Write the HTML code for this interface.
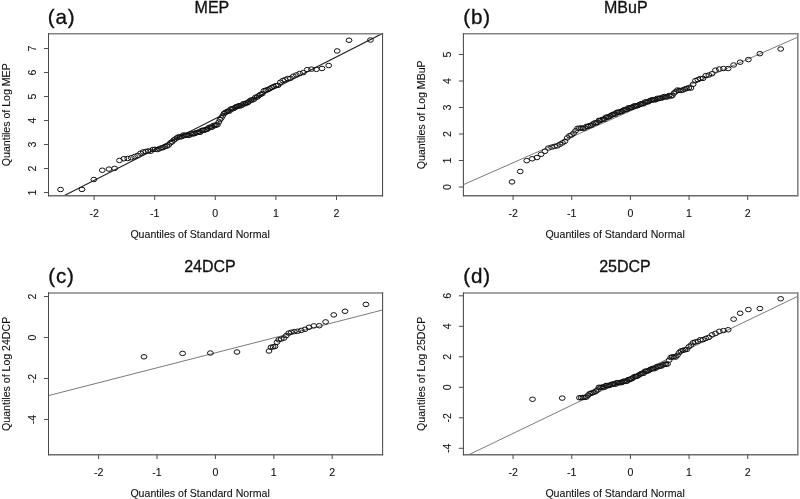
<!DOCTYPE html>
<html><head><meta charset="utf-8"><title>Q-Q plots</title>
<style>
html,body{margin:0;padding:0;background:#fff;}
body{width:800px;height:499px;overflow:hidden;font-family:"Liberation Sans",sans-serif;}
svg{display:block;will-change:transform;font-family:"Liberation Sans",sans-serif;}
</style></head><body>
<svg width="800" height="499" viewBox="0 0 800 499">
<rect x="0" y="0" width="800" height="499" fill="#ffffff"/>
<clipPath id="cpa"><rect x="48.5" y="33.75" width="334.05" height="161.95"/></clipPath>
<line x1="64" y1="195.75" x2="382.5" y2="33.4" stroke="#222" stroke-width="1.1" clip-path="url(#cpa)"/>
<g fill="none" stroke="#111" stroke-width="1.0">
<ellipse cx="60.55" cy="189.50" rx="2.9" ry="2.25"/>
<ellipse cx="81.98" cy="189.43" rx="2.9" ry="2.25"/>
<ellipse cx="93.81" cy="179.53" rx="2.9" ry="2.25"/>
<ellipse cx="102.28" cy="170.22" rx="2.9" ry="2.25"/>
<ellipse cx="108.99" cy="169.08" rx="2.9" ry="2.25"/>
<ellipse cx="114.61" cy="168.37" rx="2.9" ry="2.25"/>
<ellipse cx="119.48" cy="160.40" rx="2.9" ry="2.25"/>
<ellipse cx="123.80" cy="158.73" rx="2.9" ry="2.25"/>
<ellipse cx="127.70" cy="158.46" rx="2.9" ry="2.25"/>
<ellipse cx="131.27" cy="157.75" rx="2.9" ry="2.25"/>
<ellipse cx="134.57" cy="156.55" rx="2.9" ry="2.25"/>
<ellipse cx="137.65" cy="155.38" rx="2.9" ry="2.25"/>
<ellipse cx="140.53" cy="153.22" rx="2.9" ry="2.25"/>
<ellipse cx="143.26" cy="151.97" rx="2.9" ry="2.25"/>
<ellipse cx="145.85" cy="151.46" rx="2.9" ry="2.25"/>
<ellipse cx="148.32" cy="150.93" rx="2.9" ry="2.25"/>
<ellipse cx="150.69" cy="151.21" rx="2.9" ry="2.25"/>
<ellipse cx="152.96" cy="149.45" rx="2.9" ry="2.25"/>
<ellipse cx="155.14" cy="149.35" rx="2.9" ry="2.25"/>
<ellipse cx="157.25" cy="149.53" rx="2.9" ry="2.25"/>
<ellipse cx="159.29" cy="148.83" rx="2.9" ry="2.25"/>
<ellipse cx="161.27" cy="147.96" rx="2.9" ry="2.25"/>
<ellipse cx="163.20" cy="147.61" rx="2.9" ry="2.25"/>
<ellipse cx="165.07" cy="146.34" rx="2.9" ry="2.25"/>
<ellipse cx="166.89" cy="146.07" rx="2.9" ry="2.25"/>
<ellipse cx="168.68" cy="145.01" rx="2.9" ry="2.25"/>
<ellipse cx="170.42" cy="142.81" rx="2.9" ry="2.25"/>
<ellipse cx="172.13" cy="141.86" rx="2.9" ry="2.25"/>
<ellipse cx="173.80" cy="139.94" rx="2.9" ry="2.25"/>
<ellipse cx="175.45" cy="138.98" rx="2.9" ry="2.25"/>
<ellipse cx="177.06" cy="137.76" rx="2.9" ry="2.25"/>
<ellipse cx="178.65" cy="136.85" rx="2.9" ry="2.25"/>
<ellipse cx="180.21" cy="136.91" rx="2.9" ry="2.25"/>
<ellipse cx="181.75" cy="136.60" rx="2.9" ry="2.25"/>
<ellipse cx="183.27" cy="135.05" rx="2.9" ry="2.25"/>
<ellipse cx="184.76" cy="135.53" rx="2.9" ry="2.25"/>
<ellipse cx="186.24" cy="135.12" rx="2.9" ry="2.25"/>
<ellipse cx="187.71" cy="134.99" rx="2.9" ry="2.25"/>
<ellipse cx="189.15" cy="135.39" rx="2.9" ry="2.25"/>
<ellipse cx="190.59" cy="133.70" rx="2.9" ry="2.25"/>
<ellipse cx="192.00" cy="133.86" rx="2.9" ry="2.25"/>
<ellipse cx="193.41" cy="133.98" rx="2.9" ry="2.25"/>
<ellipse cx="194.80" cy="133.39" rx="2.9" ry="2.25"/>
<ellipse cx="196.19" cy="132.70" rx="2.9" ry="2.25"/>
<ellipse cx="197.56" cy="132.49" rx="2.9" ry="2.25"/>
<ellipse cx="198.92" cy="131.98" rx="2.9" ry="2.25"/>
<ellipse cx="200.28" cy="132.25" rx="2.9" ry="2.25"/>
<ellipse cx="201.63" cy="130.47" rx="2.9" ry="2.25"/>
<ellipse cx="202.97" cy="130.21" rx="2.9" ry="2.25"/>
<ellipse cx="204.30" cy="130.35" rx="2.9" ry="2.25"/>
<ellipse cx="205.63" cy="129.49" rx="2.9" ry="2.25"/>
<ellipse cx="206.96" cy="129.43" rx="2.9" ry="2.25"/>
<ellipse cx="208.28" cy="128.06" rx="2.9" ry="2.25"/>
<ellipse cx="209.60" cy="127.21" rx="2.9" ry="2.25"/>
<ellipse cx="210.91" cy="127.44" rx="2.9" ry="2.25"/>
<ellipse cx="212.22" cy="126.96" rx="2.9" ry="2.25"/>
<ellipse cx="213.53" cy="125.38" rx="2.9" ry="2.25"/>
<ellipse cx="214.85" cy="125.65" rx="2.9" ry="2.25"/>
<ellipse cx="216.15" cy="124.92" rx="2.9" ry="2.25"/>
<ellipse cx="217.47" cy="124.78" rx="2.9" ry="2.25"/>
<ellipse cx="218.78" cy="122.12" rx="2.9" ry="2.25"/>
<ellipse cx="220.09" cy="119.64" rx="2.9" ry="2.25"/>
<ellipse cx="221.40" cy="117.93" rx="2.9" ry="2.25"/>
<ellipse cx="222.72" cy="115.77" rx="2.9" ry="2.25"/>
<ellipse cx="224.04" cy="113.55" rx="2.9" ry="2.25"/>
<ellipse cx="225.37" cy="112.53" rx="2.9" ry="2.25"/>
<ellipse cx="226.70" cy="111.76" rx="2.9" ry="2.25"/>
<ellipse cx="228.03" cy="111.15" rx="2.9" ry="2.25"/>
<ellipse cx="229.37" cy="111.17" rx="2.9" ry="2.25"/>
<ellipse cx="230.72" cy="109.08" rx="2.9" ry="2.25"/>
<ellipse cx="232.08" cy="108.80" rx="2.9" ry="2.25"/>
<ellipse cx="233.44" cy="108.57" rx="2.9" ry="2.25"/>
<ellipse cx="234.81" cy="107.70" rx="2.9" ry="2.25"/>
<ellipse cx="236.20" cy="106.75" rx="2.9" ry="2.25"/>
<ellipse cx="237.59" cy="106.37" rx="2.9" ry="2.25"/>
<ellipse cx="239.00" cy="105.71" rx="2.9" ry="2.25"/>
<ellipse cx="240.41" cy="105.94" rx="2.9" ry="2.25"/>
<ellipse cx="241.85" cy="105.25" rx="2.9" ry="2.25"/>
<ellipse cx="243.29" cy="103.77" rx="2.9" ry="2.25"/>
<ellipse cx="244.76" cy="103.88" rx="2.9" ry="2.25"/>
<ellipse cx="246.24" cy="103.01" rx="2.9" ry="2.25"/>
<ellipse cx="247.73" cy="102.71" rx="2.9" ry="2.25"/>
<ellipse cx="249.25" cy="101.20" rx="2.9" ry="2.25"/>
<ellipse cx="250.79" cy="100.10" rx="2.9" ry="2.25"/>
<ellipse cx="252.35" cy="99.99" rx="2.9" ry="2.25"/>
<ellipse cx="253.94" cy="99.21" rx="2.9" ry="2.25"/>
<ellipse cx="255.55" cy="97.19" rx="2.9" ry="2.25"/>
<ellipse cx="257.20" cy="97.07" rx="2.9" ry="2.25"/>
<ellipse cx="258.87" cy="95.57" rx="2.9" ry="2.25"/>
<ellipse cx="260.58" cy="94.43" rx="2.9" ry="2.25"/>
<ellipse cx="262.32" cy="93.60" rx="2.9" ry="2.25"/>
<ellipse cx="264.11" cy="90.71" rx="2.9" ry="2.25"/>
<ellipse cx="265.93" cy="90.15" rx="2.9" ry="2.25"/>
<ellipse cx="267.80" cy="89.67" rx="2.9" ry="2.25"/>
<ellipse cx="269.73" cy="88.63" rx="2.9" ry="2.25"/>
<ellipse cx="271.71" cy="87.45" rx="2.9" ry="2.25"/>
<ellipse cx="273.75" cy="86.57" rx="2.9" ry="2.25"/>
<ellipse cx="275.86" cy="85.66" rx="2.9" ry="2.25"/>
<ellipse cx="278.04" cy="85.34" rx="2.9" ry="2.25"/>
<ellipse cx="280.31" cy="82.29" rx="2.9" ry="2.25"/>
<ellipse cx="282.68" cy="80.59" rx="2.9" ry="2.25"/>
<ellipse cx="285.15" cy="79.72" rx="2.9" ry="2.25"/>
<ellipse cx="287.74" cy="78.51" rx="2.9" ry="2.25"/>
<ellipse cx="290.47" cy="78.21" rx="2.9" ry="2.25"/>
<ellipse cx="293.35" cy="76.20" rx="2.9" ry="2.25"/>
<ellipse cx="296.43" cy="74.92" rx="2.9" ry="2.25"/>
<ellipse cx="299.73" cy="73.50" rx="2.9" ry="2.25"/>
<ellipse cx="303.30" cy="72.61" rx="2.9" ry="2.25"/>
<ellipse cx="307.20" cy="69.65" rx="2.9" ry="2.25"/>
<ellipse cx="311.52" cy="69.14" rx="2.9" ry="2.25"/>
<ellipse cx="316.39" cy="69.37" rx="2.9" ry="2.25"/>
<ellipse cx="322.01" cy="68.49" rx="2.9" ry="2.25"/>
<ellipse cx="328.72" cy="65.53" rx="2.9" ry="2.25"/>
<ellipse cx="337.19" cy="50.94" rx="2.9" ry="2.25"/>
<ellipse cx="349.02" cy="40.25" rx="2.9" ry="2.25"/>
<ellipse cx="370.45" cy="40.00" rx="2.9" ry="2.25"/>
</g>
<line x1="48.0" y1="33.75" x2="383.15000000000003" y2="33.75" stroke="#848484" stroke-width="1.6"/>
<line x1="48.0" y1="195.7" x2="383.15000000000003" y2="195.7" stroke="#6c6c6c" stroke-width="1.4"/>
<line x1="48.5" y1="33.15" x2="48.5" y2="196.29999999999998" stroke="#484848" stroke-width="1.05"/>
<line x1="382.55" y1="33.15" x2="382.55" y2="196.29999999999998" stroke="#484848" stroke-width="1.05"/>
<g stroke="#505050" stroke-width="1.05" fill="none">
<line x1="94.10000000000001" y1="195.7" x2="94.10000000000001" y2="200.0"/>
<line x1="154.70000000000002" y1="195.7" x2="154.70000000000002" y2="200.0"/>
<line x1="215.3" y1="195.7" x2="215.3" y2="200.0"/>
<line x1="275.90000000000003" y1="195.7" x2="275.90000000000003" y2="200.0"/>
<line x1="336.5" y1="195.7" x2="336.5" y2="200.0"/>
<line x1="44.0" y1="192.5" x2="48.5" y2="192.5"/>
<line x1="44.0" y1="168.5" x2="48.5" y2="168.5"/>
<line x1="44.0" y1="144.5" x2="48.5" y2="144.5"/>
<line x1="44.0" y1="120.5" x2="48.5" y2="120.5"/>
<line x1="44.0" y1="96.5" x2="48.5" y2="96.5"/>
<line x1="44.0" y1="72.5" x2="48.5" y2="72.5"/>
<line x1="44.0" y1="48.5" x2="48.5" y2="48.5"/>
</g>
<g font-size="10.58" fill="#111" stroke="#111" stroke-width="0.1" text-anchor="middle">
<text x="94.10000000000001" y="217.3">-2</text>
<text x="154.70000000000002" y="217.3">-1</text>
<text x="215.3" y="217.3">0</text>
<text x="275.90000000000003" y="217.3">1</text>
<text x="336.5" y="217.3">2</text>
<text transform="translate(35.7,192.5) rotate(-90)">1</text>
<text transform="translate(35.7,168.5) rotate(-90)">2</text>
<text transform="translate(35.7,144.5) rotate(-90)">3</text>
<text transform="translate(35.7,120.5) rotate(-90)">4</text>
<text transform="translate(35.7,96.5) rotate(-90)">5</text>
<text transform="translate(35.7,72.5) rotate(-90)">6</text>
<text transform="translate(35.7,48.5) rotate(-90)">7</text>
<text transform="translate(10.200000000000003,114.725) rotate(-90)">Quantiles of Log MEP</text>
</g>
<text x="130.4" y="237.9" font-size="10.58" fill="#111" stroke="#111" stroke-width="0.1">Quantiles of Standard Normal</text>
<text x="211.9" y="12.9" font-size="16" fill="#111" stroke="#111" stroke-width="0.3" text-anchor="middle">MEP</text>
<text x="47.8" y="24.0" font-size="20.6" fill="#111" stroke="#111" stroke-width="0.35" letter-spacing="0.85">(a)</text>
<clipPath id="cpb"><rect x="463.4" y="33.8" width="334.4" height="161.89999999999998"/></clipPath>
<line x1="463.75" y1="184.5" x2="797.9" y2="37.1" stroke="#222" stroke-width="0.6" clip-path="url(#cpb)"/>
<g fill="none" stroke="#111" stroke-width="1.0">
<ellipse cx="512.01" cy="181.90" rx="2.9" ry="2.25"/>
<ellipse cx="520.24" cy="171.46" rx="2.9" ry="2.25"/>
<ellipse cx="526.76" cy="160.63" rx="2.9" ry="2.25"/>
<ellipse cx="532.22" cy="158.76" rx="2.9" ry="2.25"/>
<ellipse cx="536.95" cy="157.54" rx="2.9" ry="2.25"/>
<ellipse cx="541.14" cy="154.29" rx="2.9" ry="2.25"/>
<ellipse cx="544.93" cy="151.31" rx="2.9" ry="2.25"/>
<ellipse cx="548.40" cy="148.02" rx="2.9" ry="2.25"/>
<ellipse cx="551.60" cy="147.15" rx="2.9" ry="2.25"/>
<ellipse cx="554.59" cy="146.36" rx="2.9" ry="2.25"/>
<ellipse cx="557.39" cy="145.87" rx="2.9" ry="2.25"/>
<ellipse cx="560.04" cy="144.25" rx="2.9" ry="2.25"/>
<ellipse cx="562.56" cy="142.84" rx="2.9" ry="2.25"/>
<ellipse cx="564.96" cy="141.24" rx="2.9" ry="2.25"/>
<ellipse cx="567.25" cy="137.87" rx="2.9" ry="2.25"/>
<ellipse cx="569.46" cy="135.73" rx="2.9" ry="2.25"/>
<ellipse cx="571.58" cy="134.99" rx="2.9" ry="2.25"/>
<ellipse cx="573.63" cy="133.19" rx="2.9" ry="2.25"/>
<ellipse cx="575.61" cy="130.76" rx="2.9" ry="2.25"/>
<ellipse cx="577.53" cy="128.36" rx="2.9" ry="2.25"/>
<ellipse cx="579.40" cy="128.35" rx="2.9" ry="2.25"/>
<ellipse cx="581.22" cy="127.86" rx="2.9" ry="2.25"/>
<ellipse cx="582.99" cy="128.35" rx="2.9" ry="2.25"/>
<ellipse cx="584.73" cy="128.04" rx="2.9" ry="2.25"/>
<ellipse cx="586.42" cy="126.39" rx="2.9" ry="2.25"/>
<ellipse cx="588.08" cy="126.46" rx="2.9" ry="2.25"/>
<ellipse cx="589.70" cy="125.54" rx="2.9" ry="2.25"/>
<ellipse cx="591.30" cy="125.30" rx="2.9" ry="2.25"/>
<ellipse cx="592.87" cy="124.05" rx="2.9" ry="2.25"/>
<ellipse cx="594.41" cy="123.00" rx="2.9" ry="2.25"/>
<ellipse cx="595.93" cy="122.93" rx="2.9" ry="2.25"/>
<ellipse cx="597.42" cy="122.39" rx="2.9" ry="2.25"/>
<ellipse cx="598.89" cy="120.43" rx="2.9" ry="2.25"/>
<ellipse cx="600.35" cy="120.50" rx="2.9" ry="2.25"/>
<ellipse cx="601.79" cy="119.69" rx="2.9" ry="2.25"/>
<ellipse cx="603.21" cy="119.18" rx="2.9" ry="2.25"/>
<ellipse cx="604.61" cy="119.26" rx="2.9" ry="2.25"/>
<ellipse cx="606.00" cy="117.25" rx="2.9" ry="2.25"/>
<ellipse cx="607.38" cy="117.13" rx="2.9" ry="2.25"/>
<ellipse cx="608.75" cy="116.97" rx="2.9" ry="2.25"/>
<ellipse cx="610.10" cy="116.09" rx="2.9" ry="2.25"/>
<ellipse cx="611.44" cy="115.13" rx="2.9" ry="2.25"/>
<ellipse cx="612.78" cy="114.64" rx="2.9" ry="2.25"/>
<ellipse cx="614.10" cy="113.99" rx="2.9" ry="2.25"/>
<ellipse cx="615.42" cy="114.21" rx="2.9" ry="2.25"/>
<ellipse cx="616.73" cy="112.42" rx="2.9" ry="2.25"/>
<ellipse cx="618.03" cy="112.17" rx="2.9" ry="2.25"/>
<ellipse cx="619.33" cy="112.30" rx="2.9" ry="2.25"/>
<ellipse cx="620.62" cy="111.49" rx="2.9" ry="2.25"/>
<ellipse cx="621.90" cy="111.56" rx="2.9" ry="2.25"/>
<ellipse cx="623.19" cy="110.31" rx="2.9" ry="2.25"/>
<ellipse cx="624.47" cy="109.58" rx="2.9" ry="2.25"/>
<ellipse cx="625.74" cy="109.84" rx="2.9" ry="2.25"/>
<ellipse cx="627.02" cy="109.36" rx="2.9" ry="2.25"/>
<ellipse cx="628.29" cy="107.82" rx="2.9" ry="2.25"/>
<ellipse cx="629.56" cy="108.15" rx="2.9" ry="2.25"/>
<ellipse cx="630.84" cy="107.49" rx="2.9" ry="2.25"/>
<ellipse cx="632.11" cy="107.41" rx="2.9" ry="2.25"/>
<ellipse cx="633.38" cy="106.45" rx="2.9" ry="2.25"/>
<ellipse cx="634.66" cy="105.71" rx="2.9" ry="2.25"/>
<ellipse cx="635.93" cy="105.92" rx="2.9" ry="2.25"/>
<ellipse cx="637.21" cy="105.74" rx="2.9" ry="2.25"/>
<ellipse cx="638.50" cy="105.13" rx="2.9" ry="2.25"/>
<ellipse cx="639.78" cy="104.38" rx="2.9" ry="2.25"/>
<ellipse cx="641.07" cy="103.87" rx="2.9" ry="2.25"/>
<ellipse cx="642.37" cy="103.53" rx="2.9" ry="2.25"/>
<ellipse cx="643.67" cy="103.81" rx="2.9" ry="2.25"/>
<ellipse cx="644.98" cy="102.00" rx="2.9" ry="2.25"/>
<ellipse cx="646.30" cy="101.98" rx="2.9" ry="2.25"/>
<ellipse cx="647.62" cy="102.02" rx="2.9" ry="2.25"/>
<ellipse cx="648.96" cy="101.27" rx="2.9" ry="2.25"/>
<ellipse cx="650.30" cy="100.40" rx="2.9" ry="2.25"/>
<ellipse cx="651.65" cy="100.11" rx="2.9" ry="2.25"/>
<ellipse cx="653.02" cy="99.58" rx="2.9" ry="2.25"/>
<ellipse cx="654.40" cy="100.04" rx="2.9" ry="2.25"/>
<ellipse cx="655.79" cy="99.57" rx="2.9" ry="2.25"/>
<ellipse cx="657.19" cy="98.33" rx="2.9" ry="2.25"/>
<ellipse cx="658.61" cy="98.67" rx="2.9" ry="2.25"/>
<ellipse cx="660.05" cy="98.03" rx="2.9" ry="2.25"/>
<ellipse cx="661.51" cy="98.19" rx="2.9" ry="2.25"/>
<ellipse cx="662.98" cy="97.15" rx="2.9" ry="2.25"/>
<ellipse cx="664.47" cy="96.53" rx="2.9" ry="2.25"/>
<ellipse cx="665.99" cy="97.01" rx="2.9" ry="2.25"/>
<ellipse cx="667.53" cy="96.87" rx="2.9" ry="2.25"/>
<ellipse cx="669.10" cy="95.51" rx="2.9" ry="2.25"/>
<ellipse cx="670.70" cy="96.07" rx="2.9" ry="2.25"/>
<ellipse cx="672.32" cy="95.65" rx="2.9" ry="2.25"/>
<ellipse cx="673.98" cy="93.08" rx="2.9" ry="2.25"/>
<ellipse cx="675.67" cy="91.66" rx="2.9" ry="2.25"/>
<ellipse cx="677.41" cy="90.04" rx="2.9" ry="2.25"/>
<ellipse cx="679.18" cy="90.40" rx="2.9" ry="2.25"/>
<ellipse cx="681.00" cy="90.49" rx="2.9" ry="2.25"/>
<ellipse cx="682.87" cy="89.98" rx="2.9" ry="2.25"/>
<ellipse cx="684.79" cy="89.07" rx="2.9" ry="2.25"/>
<ellipse cx="686.77" cy="88.48" rx="2.9" ry="2.25"/>
<ellipse cx="688.82" cy="87.91" rx="2.9" ry="2.25"/>
<ellipse cx="690.94" cy="88.05" rx="2.9" ry="2.25"/>
<ellipse cx="693.15" cy="84.25" rx="2.9" ry="2.25"/>
<ellipse cx="695.44" cy="80.65" rx="2.9" ry="2.25"/>
<ellipse cx="697.84" cy="79.68" rx="2.9" ry="2.25"/>
<ellipse cx="700.36" cy="78.55" rx="2.9" ry="2.25"/>
<ellipse cx="703.01" cy="78.34" rx="2.9" ry="2.25"/>
<ellipse cx="705.81" cy="75.60" rx="2.9" ry="2.25"/>
<ellipse cx="708.80" cy="75.00" rx="2.9" ry="2.25"/>
<ellipse cx="712.00" cy="73.77" rx="2.9" ry="2.25"/>
<ellipse cx="715.47" cy="70.16" rx="2.9" ry="2.25"/>
<ellipse cx="719.26" cy="69.04" rx="2.9" ry="2.25"/>
<ellipse cx="723.45" cy="68.56" rx="2.9" ry="2.25"/>
<ellipse cx="728.18" cy="68.50" rx="2.9" ry="2.25"/>
<ellipse cx="733.64" cy="64.98" rx="2.9" ry="2.25"/>
<ellipse cx="740.16" cy="62.19" rx="2.9" ry="2.25"/>
<ellipse cx="748.39" cy="59.59" rx="2.9" ry="2.25"/>
<ellipse cx="759.88" cy="53.70" rx="2.9" ry="2.25"/>
<ellipse cx="780.69" cy="49.00" rx="2.9" ry="2.25"/>
</g>
<line x1="462.9" y1="33.8" x2="798.4" y2="33.8" stroke="#848484" stroke-width="1.6"/>
<line x1="462.9" y1="195.7" x2="798.4" y2="195.7" stroke="#6c6c6c" stroke-width="1.4"/>
<line x1="463.4" y1="33.199999999999996" x2="463.4" y2="196.29999999999998" stroke="#484848" stroke-width="1.05"/>
<line x1="797.8" y1="33.199999999999996" x2="797.8" y2="196.29999999999998" stroke="#848484" stroke-width="1.6"/>
<g stroke="#505050" stroke-width="1.05" fill="none">
<line x1="513.1" y1="195.7" x2="513.1" y2="200.0"/>
<line x1="571.75" y1="195.7" x2="571.75" y2="200.0"/>
<line x1="630.4" y1="195.7" x2="630.4" y2="200.0"/>
<line x1="689.05" y1="195.7" x2="689.05" y2="200.0"/>
<line x1="747.6999999999999" y1="195.7" x2="747.6999999999999" y2="200.0"/>
<line x1="458.9" y1="187.0" x2="463.4" y2="187.0"/>
<line x1="458.9" y1="160.5" x2="463.4" y2="160.5"/>
<line x1="458.9" y1="134.0" x2="463.4" y2="134.0"/>
<line x1="458.9" y1="107.5" x2="463.4" y2="107.5"/>
<line x1="458.9" y1="81.0" x2="463.4" y2="81.0"/>
<line x1="458.9" y1="54.5" x2="463.4" y2="54.5"/>
</g>
<g font-size="10.58" fill="#111" stroke="#111" stroke-width="0.1" text-anchor="middle">
<text x="513.1" y="217.3">-2</text>
<text x="571.75" y="217.3">-1</text>
<text x="630.4" y="217.3">0</text>
<text x="689.05" y="217.3">1</text>
<text x="747.6999999999999" y="217.3">2</text>
<text transform="translate(450.59999999999997,187.0) rotate(-90)">0</text>
<text transform="translate(450.59999999999997,160.5) rotate(-90)">1</text>
<text transform="translate(450.59999999999997,134.0) rotate(-90)">2</text>
<text transform="translate(450.59999999999997,107.5) rotate(-90)">3</text>
<text transform="translate(450.59999999999997,81.0) rotate(-90)">4</text>
<text transform="translate(450.59999999999997,54.5) rotate(-90)">5</text>
<text transform="translate(425.09999999999997,114.75) rotate(-90)">Quantiles of Log MBuP</text>
</g>
<text x="545.4" y="237.9" font-size="10.58" fill="#111" stroke="#111" stroke-width="0.1">Quantiles of Standard Normal</text>
<text x="625.8" y="12.9" font-size="16" fill="#111" stroke="#111" stroke-width="0.3" text-anchor="middle">MBuP</text>
<text x="463.2" y="24.0" font-size="20.6" fill="#111" stroke="#111" stroke-width="0.35" letter-spacing="0.85">(b)</text>
<clipPath id="cpc"><rect x="48.5" y="293.0" width="334.1" height="161.7"/></clipPath>
<line x1="48.5" y1="395.6" x2="382.5" y2="310" stroke="#222" stroke-width="0.6" clip-path="url(#cpc)"/>
<g fill="none" stroke="#111" stroke-width="1.0">
<ellipse cx="144.00" cy="356.80" rx="2.9" ry="2.25"/>
<ellipse cx="182.60" cy="353.40" rx="2.9" ry="2.25"/>
<ellipse cx="210.40" cy="353.00" rx="2.9" ry="2.25"/>
<ellipse cx="237.00" cy="352.00" rx="2.9" ry="2.25"/>
<ellipse cx="269.00" cy="351.00" rx="2.9" ry="2.25"/>
<ellipse cx="271.00" cy="347.25" rx="2.9" ry="2.25"/>
<ellipse cx="273.10" cy="346.90" rx="2.9" ry="2.25"/>
<ellipse cx="275.00" cy="346.50" rx="2.9" ry="2.25"/>
<ellipse cx="276.90" cy="342.25" rx="2.9" ry="2.25"/>
<ellipse cx="278.75" cy="339.75" rx="2.9" ry="2.25"/>
<ellipse cx="281.25" cy="339.00" rx="2.9" ry="2.25"/>
<ellipse cx="284.00" cy="338.10" rx="2.9" ry="2.25"/>
<ellipse cx="286.25" cy="335.60" rx="2.9" ry="2.25"/>
<ellipse cx="288.75" cy="333.10" rx="2.9" ry="2.25"/>
<ellipse cx="291.25" cy="332.25" rx="2.9" ry="2.25"/>
<ellipse cx="294.40" cy="331.60" rx="2.9" ry="2.25"/>
<ellipse cx="297.50" cy="331.25" rx="2.9" ry="2.25"/>
<ellipse cx="301.25" cy="330.40" rx="2.9" ry="2.25"/>
<ellipse cx="305.00" cy="329.30" rx="2.9" ry="2.25"/>
<ellipse cx="309.00" cy="327.25" rx="2.9" ry="2.25"/>
<ellipse cx="313.75" cy="325.90" rx="2.9" ry="2.25"/>
<ellipse cx="319.30" cy="325.70" rx="2.9" ry="2.25"/>
<ellipse cx="325.60" cy="321.90" rx="2.9" ry="2.25"/>
<ellipse cx="333.75" cy="314.90" rx="2.9" ry="2.25"/>
<ellipse cx="345.00" cy="311.25" rx="2.9" ry="2.25"/>
<ellipse cx="365.90" cy="304.40" rx="2.9" ry="2.25"/>
</g>
<line x1="48.0" y1="293.0" x2="383.20000000000005" y2="293.0" stroke="#848484" stroke-width="1.6"/>
<line x1="48.0" y1="454.7" x2="383.20000000000005" y2="454.7" stroke="#6c6c6c" stroke-width="1.4"/>
<line x1="48.5" y1="292.4" x2="48.5" y2="455.3" stroke="#484848" stroke-width="1.05"/>
<line x1="382.6" y1="292.4" x2="382.6" y2="455.3" stroke="#484848" stroke-width="1.05"/>
<g stroke="#505050" stroke-width="1.05" fill="none">
<line x1="98.60000000000001" y1="454.7" x2="98.60000000000001" y2="459.0"/>
<line x1="157.0" y1="454.7" x2="157.0" y2="459.0"/>
<line x1="215.4" y1="454.7" x2="215.4" y2="459.0"/>
<line x1="273.8" y1="454.7" x2="273.8" y2="459.0"/>
<line x1="332.2" y1="454.7" x2="332.2" y2="459.0"/>
<line x1="44.0" y1="296.5" x2="48.5" y2="296.5"/>
<line x1="44.0" y1="337.5" x2="48.5" y2="337.5"/>
<line x1="44.0" y1="378.5" x2="48.5" y2="378.5"/>
<line x1="44.0" y1="419.5" x2="48.5" y2="419.5"/>
</g>
<g font-size="10.58" fill="#111" stroke="#111" stroke-width="0.1" text-anchor="middle">
<text x="98.60000000000001" y="475.9">-2</text>
<text x="157.0" y="475.9">-1</text>
<text x="215.4" y="475.9">0</text>
<text x="273.8" y="475.9">1</text>
<text x="332.2" y="475.9">2</text>
<text transform="translate(35.7,296.5) rotate(-90)">2</text>
<text transform="translate(35.7,337.5) rotate(-90)">0</text>
<text transform="translate(35.7,378.5) rotate(-90)">-2</text>
<text transform="translate(35.7,419.5) rotate(-90)">-4</text>
<text transform="translate(10.200000000000003,373.85) rotate(-90)">Quantiles of Log 24DCP</text>
</g>
<text x="130.4" y="496.9" font-size="10.58" fill="#111" stroke="#111" stroke-width="0.1">Quantiles of Standard Normal</text>
<text x="210" y="271.9" font-size="16" fill="#111" stroke="#111" stroke-width="0.3" text-anchor="middle">24DCP</text>
<text x="48.2" y="283.1" font-size="20.6" fill="#111" stroke="#111" stroke-width="0.35" letter-spacing="0.85">(c)</text>
<clipPath id="cpd"><rect x="463.4" y="293.0" width="334.4" height="161.7"/></clipPath>
<line x1="469.3" y1="454.5" x2="797.9" y2="296.25" stroke="#222" stroke-width="0.6" clip-path="url(#cpd)"/>
<g fill="none" stroke="#111" stroke-width="1.0">
<ellipse cx="532.50" cy="399.25" rx="2.9" ry="2.25"/>
<ellipse cx="562.25" cy="398.10" rx="2.9" ry="2.25"/>
<ellipse cx="579.40" cy="397.75" rx="2.9" ry="2.25"/>
<ellipse cx="581.22" cy="397.65" rx="2.9" ry="2.25"/>
<ellipse cx="582.99" cy="397.51" rx="2.9" ry="2.25"/>
<ellipse cx="584.73" cy="397.37" rx="2.9" ry="2.25"/>
<ellipse cx="586.42" cy="397.06" rx="2.9" ry="2.25"/>
<ellipse cx="588.08" cy="395.22" rx="2.9" ry="2.25"/>
<ellipse cx="589.70" cy="393.65" rx="2.9" ry="2.25"/>
<ellipse cx="591.30" cy="393.12" rx="2.9" ry="2.25"/>
<ellipse cx="592.87" cy="392.60" rx="2.9" ry="2.25"/>
<ellipse cx="594.41" cy="392.10" rx="2.9" ry="2.25"/>
<ellipse cx="595.93" cy="391.21" rx="2.9" ry="2.25"/>
<ellipse cx="597.42" cy="389.90" rx="2.9" ry="2.25"/>
<ellipse cx="598.89" cy="387.29" rx="2.9" ry="2.25"/>
<ellipse cx="600.35" cy="387.67" rx="2.9" ry="2.25"/>
<ellipse cx="601.79" cy="387.16" rx="2.9" ry="2.25"/>
<ellipse cx="603.21" cy="386.93" rx="2.9" ry="2.25"/>
<ellipse cx="604.61" cy="387.24" rx="2.9" ry="2.25"/>
<ellipse cx="606.00" cy="385.46" rx="2.9" ry="2.25"/>
<ellipse cx="607.38" cy="385.57" rx="2.9" ry="2.25"/>
<ellipse cx="608.75" cy="385.68" rx="2.9" ry="2.25"/>
<ellipse cx="610.10" cy="385.08" rx="2.9" ry="2.25"/>
<ellipse cx="611.44" cy="384.38" rx="2.9" ry="2.25"/>
<ellipse cx="612.78" cy="384.17" rx="2.9" ry="2.25"/>
<ellipse cx="614.10" cy="383.78" rx="2.9" ry="2.25"/>
<ellipse cx="615.42" cy="384.25" rx="2.9" ry="2.25"/>
<ellipse cx="616.73" cy="382.66" rx="2.9" ry="2.25"/>
<ellipse cx="618.03" cy="382.60" rx="2.9" ry="2.25"/>
<ellipse cx="619.33" cy="382.93" rx="2.9" ry="2.25"/>
<ellipse cx="620.62" cy="382.31" rx="2.9" ry="2.25"/>
<ellipse cx="621.90" cy="382.57" rx="2.9" ry="2.25"/>
<ellipse cx="623.19" cy="381.51" rx="2.9" ry="2.25"/>
<ellipse cx="624.47" cy="380.97" rx="2.9" ry="2.25"/>
<ellipse cx="625.74" cy="381.43" rx="2.9" ry="2.25"/>
<ellipse cx="627.02" cy="381.14" rx="2.9" ry="2.25"/>
<ellipse cx="628.29" cy="379.56" rx="2.9" ry="2.25"/>
<ellipse cx="629.56" cy="379.70" rx="2.9" ry="2.25"/>
<ellipse cx="630.84" cy="378.86" rx="2.9" ry="2.25"/>
<ellipse cx="632.11" cy="378.59" rx="2.9" ry="2.25"/>
<ellipse cx="633.38" cy="377.44" rx="2.9" ry="2.25"/>
<ellipse cx="634.66" cy="376.52" rx="2.9" ry="2.25"/>
<ellipse cx="635.93" cy="376.54" rx="2.9" ry="2.25"/>
<ellipse cx="637.21" cy="376.17" rx="2.9" ry="2.25"/>
<ellipse cx="638.50" cy="375.36" rx="2.9" ry="2.25"/>
<ellipse cx="639.78" cy="374.41" rx="2.9" ry="2.25"/>
<ellipse cx="641.07" cy="373.72" rx="2.9" ry="2.25"/>
<ellipse cx="642.37" cy="373.18" rx="2.9" ry="2.25"/>
<ellipse cx="643.67" cy="373.27" rx="2.9" ry="2.25"/>
<ellipse cx="644.98" cy="371.26" rx="2.9" ry="2.25"/>
<ellipse cx="646.30" cy="371.17" rx="2.9" ry="2.25"/>
<ellipse cx="647.62" cy="371.15" rx="2.9" ry="2.25"/>
<ellipse cx="648.96" cy="370.34" rx="2.9" ry="2.25"/>
<ellipse cx="650.30" cy="369.41" rx="2.9" ry="2.25"/>
<ellipse cx="651.65" cy="369.05" rx="2.9" ry="2.25"/>
<ellipse cx="653.02" cy="368.40" rx="2.9" ry="2.25"/>
<ellipse cx="654.40" cy="368.65" rx="2.9" ry="2.25"/>
<ellipse cx="655.79" cy="367.97" rx="2.9" ry="2.25"/>
<ellipse cx="657.19" cy="366.51" rx="2.9" ry="2.25"/>
<ellipse cx="658.61" cy="366.72" rx="2.9" ry="2.25"/>
<ellipse cx="660.05" cy="365.97" rx="2.9" ry="2.25"/>
<ellipse cx="661.51" cy="366.02" rx="2.9" ry="2.25"/>
<ellipse cx="662.98" cy="364.86" rx="2.9" ry="2.25"/>
<ellipse cx="664.47" cy="364.12" rx="2.9" ry="2.25"/>
<ellipse cx="665.99" cy="364.37" rx="2.9" ry="2.25"/>
<ellipse cx="667.53" cy="363.96" rx="2.9" ry="2.25"/>
<ellipse cx="669.10" cy="360.23" rx="2.9" ry="2.25"/>
<ellipse cx="670.70" cy="357.45" rx="2.9" ry="2.25"/>
<ellipse cx="672.32" cy="356.89" rx="2.9" ry="2.25"/>
<ellipse cx="673.98" cy="356.80" rx="2.9" ry="2.25"/>
<ellipse cx="675.67" cy="357.04" rx="2.9" ry="2.25"/>
<ellipse cx="677.41" cy="355.25" rx="2.9" ry="2.25"/>
<ellipse cx="679.18" cy="352.63" rx="2.9" ry="2.25"/>
<ellipse cx="681.00" cy="350.93" rx="2.9" ry="2.25"/>
<ellipse cx="682.87" cy="350.41" rx="2.9" ry="2.25"/>
<ellipse cx="684.79" cy="349.77" rx="2.9" ry="2.25"/>
<ellipse cx="686.77" cy="349.45" rx="2.9" ry="2.25"/>
<ellipse cx="688.82" cy="346.77" rx="2.9" ry="2.25"/>
<ellipse cx="690.94" cy="345.12" rx="2.9" ry="2.25"/>
<ellipse cx="693.15" cy="342.69" rx="2.9" ry="2.25"/>
<ellipse cx="695.44" cy="341.93" rx="2.9" ry="2.25"/>
<ellipse cx="697.84" cy="341.30" rx="2.9" ry="2.25"/>
<ellipse cx="700.36" cy="339.77" rx="2.9" ry="2.25"/>
<ellipse cx="703.01" cy="339.71" rx="2.9" ry="2.25"/>
<ellipse cx="705.81" cy="338.40" rx="2.9" ry="2.25"/>
<ellipse cx="708.80" cy="337.36" rx="2.9" ry="2.25"/>
<ellipse cx="712.00" cy="334.80" rx="2.9" ry="2.25"/>
<ellipse cx="715.47" cy="333.37" rx="2.9" ry="2.25"/>
<ellipse cx="719.26" cy="331.33" rx="2.9" ry="2.25"/>
<ellipse cx="723.45" cy="330.64" rx="2.9" ry="2.25"/>
<ellipse cx="728.18" cy="329.77" rx="2.9" ry="2.25"/>
<ellipse cx="733.64" cy="319.16" rx="2.9" ry="2.25"/>
<ellipse cx="740.16" cy="313.25" rx="2.9" ry="2.25"/>
<ellipse cx="748.39" cy="309.56" rx="2.9" ry="2.25"/>
<ellipse cx="759.88" cy="308.53" rx="2.9" ry="2.25"/>
<ellipse cx="780.69" cy="298.75" rx="2.9" ry="2.25"/>
</g>
<line x1="462.9" y1="293.0" x2="798.4" y2="293.0" stroke="#848484" stroke-width="1.6"/>
<line x1="462.9" y1="454.7" x2="798.4" y2="454.7" stroke="#6c6c6c" stroke-width="1.4"/>
<line x1="463.4" y1="292.4" x2="463.4" y2="455.3" stroke="#484848" stroke-width="1.05"/>
<line x1="797.8" y1="292.4" x2="797.8" y2="455.3" stroke="#848484" stroke-width="1.6"/>
<g stroke="#505050" stroke-width="1.05" fill="none">
<line x1="513.1" y1="454.7" x2="513.1" y2="459.0"/>
<line x1="571.75" y1="454.7" x2="571.75" y2="459.0"/>
<line x1="630.4" y1="454.7" x2="630.4" y2="459.0"/>
<line x1="689.05" y1="454.7" x2="689.05" y2="459.0"/>
<line x1="747.6999999999999" y1="454.7" x2="747.6999999999999" y2="459.0"/>
<line x1="458.9" y1="295.8" x2="463.4" y2="295.8"/>
<line x1="458.9" y1="326.3" x2="463.4" y2="326.3"/>
<line x1="458.9" y1="356.8" x2="463.4" y2="356.8"/>
<line x1="458.9" y1="387.3" x2="463.4" y2="387.3"/>
<line x1="458.9" y1="417.8" x2="463.4" y2="417.8"/>
<line x1="458.9" y1="448.3" x2="463.4" y2="448.3"/>
</g>
<g font-size="10.58" fill="#111" stroke="#111" stroke-width="0.1" text-anchor="middle">
<text x="513.1" y="475.9">-2</text>
<text x="571.75" y="475.9">-1</text>
<text x="630.4" y="475.9">0</text>
<text x="689.05" y="475.9">1</text>
<text x="747.6999999999999" y="475.9">2</text>
<text transform="translate(450.59999999999997,295.8) rotate(-90)">6</text>
<text transform="translate(450.59999999999997,326.3) rotate(-90)">4</text>
<text transform="translate(450.59999999999997,356.8) rotate(-90)">2</text>
<text transform="translate(450.59999999999997,387.3) rotate(-90)">0</text>
<text transform="translate(450.59999999999997,417.8) rotate(-90)">-2</text>
<text transform="translate(450.59999999999997,448.3) rotate(-90)">-4</text>
<text transform="translate(425.09999999999997,373.85) rotate(-90)">Quantiles of Log 25DCP</text>
</g>
<text x="545.4" y="496.9" font-size="10.58" fill="#111" stroke="#111" stroke-width="0.1">Quantiles of Standard Normal</text>
<text x="625" y="271.9" font-size="16" fill="#111" stroke="#111" stroke-width="0.3" text-anchor="middle">25DCP</text>
<text x="463.2" y="283.1" font-size="20.6" fill="#111" stroke="#111" stroke-width="0.35" letter-spacing="0.85">(d)</text>
</svg>
</body></html>
